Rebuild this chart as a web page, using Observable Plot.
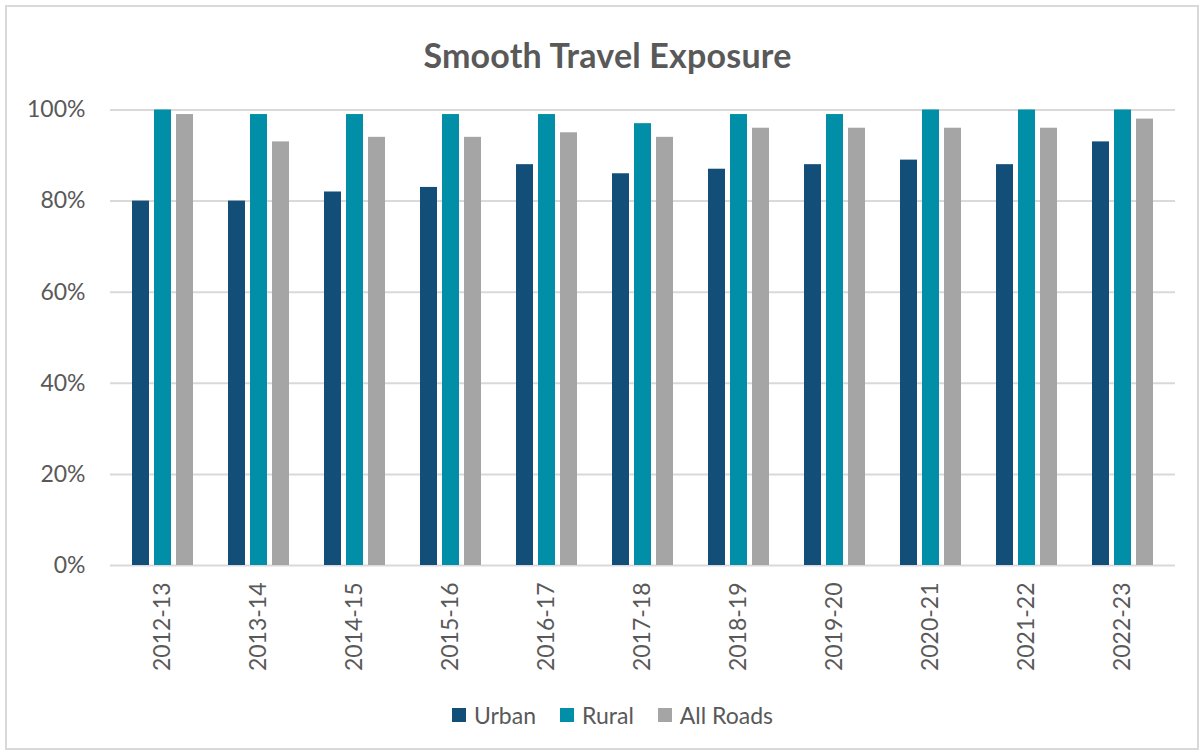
<!DOCTYPE html>
<html>
<head>
<meta charset="utf-8">
<script src="https://cdn.jsdelivr.net/npm/d3@7"></script>
<script src="https://cdn.jsdelivr.net/npm/@observablehq/plot@0.6"></script>
<style>
  html, body { margin: 0; padding: 0; background: #fff; }
  body { width: 1203px; height: 751px; position: relative; overflow: hidden; font-family: Lato, "Open Sans", sans-serif; color: #595959; }
  #frame { position: absolute; left: 5px; top: 5px; width: 1190px; height: 741px; border: 2px solid #d9d9d9; box-sizing: content-box; }
  #title { position: absolute; left: 6px; top: 34px; width: 1203px; text-align: center; font-size: 34px; font-weight: bold; color: #595959; line-height: 42px; letter-spacing: 0.2px; }
  #chart { position: absolute; left: 0; top: 80px; }
  #legend { position: absolute; left: 0; top: 699px; width: 1225px; display: flex; justify-content: center; align-items: center; font-size: 23px; color: #595959; line-height: 32px; }
  .item { display: flex; align-items: center; margin: 0 12px; }
  .sw { width: 14px; height: 14px; margin-right: 8px; }
</style>
</head>
<body>
<div id="frame"></div>
<div id="title">Smooth Travel Exposure</div>
<div id="chart"></div>
<div id="legend"></div>
<script>
const years = ["2012-13","2013-14","2014-15","2015-16","2016-17","2017-18","2018-19","2019-20","2020-21","2021-22","2022-23"];
const series = ["Urban", "Rural", "All Roads"];
const colors = ["#124e78", "#008fa7", "#a5a5a5"];
const urban    = [80, 80, 82, 83, 88, 86, 87, 88, 89, 88, 93];
const rural    = [100, 99, 99, 99, 99, 97, 99, 99, 100, 100, 100];
const allRoads = [99, 93, 94, 94, 95, 94, 96, 96, 96, 96, 98];
const yTicks = [0, 20, 40, 60, 80, 100];

const valuesBySeries = [urban, rural, allRoads];
const offsets = [-22, 0, 22];

const marks = [
  Plot.ruleY(yTicks, {stroke: "#d9d9d9", strokeWidth: 2})
];
series.forEach((s, i) => {
  const rows = years.map((y, j) => ({year: y, value: valuesBySeries[i][j], series: s}));
  marks.push(Plot.barY(rows, {x: "year", y: "value", fill: colors[i], dx: offsets[i]}));
});
marks.push(Plot.axisY({ticks: yTicks, tickSize: 0, tickPadding: 25, tickFormat: d => d + "%", fontSize: 23, fill: "#595959"}));
marks.push(Plot.axisX({tickSize: 0, tickPadding: 17, tickRotate: -90, fontSize: 23, fill: "#595959"}));

const chart = Plot.plot({
  width: 1203,
  height: 595,
  marginTop: 29.5,
  marginBottom: 110,
  marginLeft: 110,
  marginRight: 28,
  style: {fontFamily: "Lato, 'Open Sans', sans-serif", color: "#595959", background: "transparent"},
  x: {domain: years, paddingInner: 0.824, paddingOuter: 0.412, label: null},
  y: {domain: [0, 100], label: null},
  marks
});
document.getElementById("chart").appendChild(chart);

const legend = document.getElementById("legend");
series.forEach((s, i) => {
  const item = document.createElement("div");
  item.className = "item";
  const sw = document.createElement("span");
  sw.className = "sw";
  sw.style.background = colors[i];
  const label = document.createElement("span");
  label.textContent = s;
  item.appendChild(sw);
  item.appendChild(label);
  legend.appendChild(item);
});
</script>
</body>
</html>
